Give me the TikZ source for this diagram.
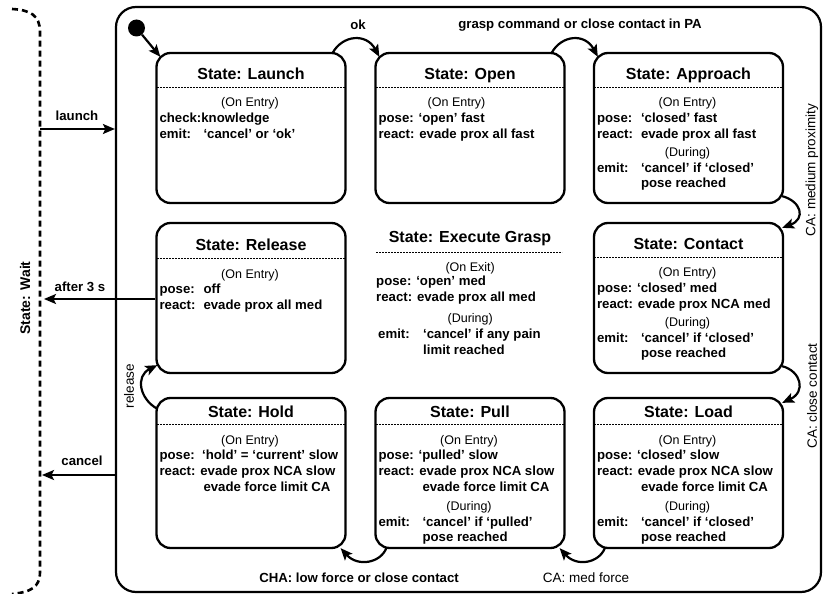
\documentclass[tikz,border=0pt]{standalone}
\usepackage{fontspec}
\setmainfont{Liberation Sans}
\usepackage{array}
\usetikzlibrary{calc,arrows.meta}

\newcommand\ttl{\fontsize{16}{19}\selectfont\bfseries}
\newcommand\bdy{\fontsize{13.2}{15.6}\selectfont\bfseries}
\newcommand\hdr{\fontsize{12.5}{15}\selectfont\mdseries}
\newcommand\hd[1]{\multicolumn{2}{@{}c@{}}{\hdr #1}}
\newcommand\one[1]{\multicolumn{2}{@{}l@{}}{#1}}
\newenvironment{bodytab}{\bdy\begin{tabular}[t]{@{}p{44pt}@{}p{137pt}@{}}}{\end{tabular}}

\newcommand\statetext[6]{%
  \node[anchor=base, inner sep=0pt] (#1-t) at ($(#1.north)+(0,#3)$) {\ttl #2};
  \draw[divider] ($(#1.north west)+(1.5,#4)$) -- ($(#1.north east)+(-1.5,#4)$);
  \node[anchor=base west, inner sep=0pt] (#1-b) at ($(#1.north west)+(4,#5)$) {#6};
}

\tikzset{
  state/.style={draw, line width=2.3pt, rounded corners=14pt, minimum width=189pt,
    minimum height=150pt, inner sep=0pt},
  divider/.style={line width=0.75pt, dash pattern=on 2pt off 1pt},
  arr/.style={line width=2.2pt, -{Stealth[length=12pt,width=10pt,inset=2.5pt]}},
  waitline/.style={line width=2.6pt, dash pattern=on 6pt off 4pt},
  lblb/.style={inner sep=0pt, font=\fontsize{13.2}{15}\selectfont\bfseries},
  lblr/.style={inner sep=0pt, font=\fontsize{13.5}{15}\selectfont\mdseries},
}

\begin{document}
\begin{tikzpicture}[x=1pt, y=-1pt]
\useasboundingbox (0,0) rectangle (823,594);

% outer state
\node[draw, line width=2.2pt, rounded corners=20pt, minimum width=705pt,
  minimum height=585pt, inner sep=0pt] (exec) at (468.5,299.5) {};

% wait state (dashed)
\draw[waitline] (12,9) .. controls (30,10) and (40,15) .. (40,32) -- (40,572)
  .. controls (40,588) and (30,592) .. (12,594);
\node[rotate=90, inner sep=0pt, font=\fontsize{14}{16}\selectfont\bfseries] (wait) at (25,298) {State: Wait};

% states
\node[state] (launch) at (251,128) {};
\node[state] (open) at (470,128) {};
\node[state] (approach) at (688.5,128) {};
\node[state] (release) at (251,298) {};
\node[state] (contact) at (688.5,298) {};
\node[state] (hold) at (251,473) {};
\node[state] (pull) at (470,473) {};
\node[state] (load) at (688.5,473) {};

\statetext{launch}{State: Launch}{28}{35.5}{55}{\begin{bodytab}
\hd{(On Entry)}\\
\one{check:knowledge}\\
emit: & ‘cancel’ or ‘ok’
\end{bodytab}}

\statetext{open}{State: Open}{28}{35.5}{55}{\begin{bodytab}
\hd{(On Entry)}\\
\one{pose: ‘open’ fast}\\
\one{react: evade prox all fast}
\end{bodytab}}

\statetext{approach}{State: Approach}{28}{35.5}{55}{\begin{bodytab}
\hd{(On Entry)}\\
pose: & ‘closed’ fast\\
react: & evade prox all fast\\[3pt]
\hd{(During)}\\
emit: & ‘cancel’ if ‘closed’\\
 & pose reached
\end{bodytab}}

\statetext{release}{State: Release}{29}{37}{56.5}{\begin{bodytab}
\hd{(On Entry)}\\
pose: & off\\
react: & evade prox all med
\end{bodytab}}

\statetext{contact}{State: Contact}{28}{35.5}{55}{\begin{bodytab}
\hd{(On Entry)}\\
\one{pose: ‘closed’ med}\\
\one{react: evade prox NCA med}\\[3pt]
\hd{(During)}\\
emit: & ‘cancel’ if ‘closed’\\
 & pose reached
\end{bodytab}}

\statetext{hold}{State: Hold}{20.5}{28}{47.5}{\begin{bodytab}
\hd{(On Entry)}\\
\one{pose:\ \ ‘hold’ = ‘current’ slow}\\
\one{react: evade prox NCA slow}\\
 & evade force limit CA
\end{bodytab}}

\statetext{pull}{State: Pull}{20.5}{28}{47.5}{\begin{bodytab}
\hd{(On Entry)}\\
\one{pose: ‘pulled’ slow}\\
\one{react: evade prox NCA slow}\\
 & evade force limit CA\\[4pt]
\hd{(During)}\\
emit: & ‘cancel’ if ‘pulled’\\
 & pose reached
\end{bodytab}}

\statetext{load}{State: Load}{20.5}{28}{47.5}{\begin{bodytab}
\hd{(On Entry)}\\
\one{pose: ‘closed’ slow}\\
\one{react: evade prox NCA slow}\\
 & evade force limit CA\\[4pt]
\hd{(During)}\\
emit: & ‘cancel’ if ‘closed’\\
 & pose reached
\end{bodytab}}

% execute grasp contents
\node[anchor=base, inner sep=0pt] (exec-t) at (470,242.7) {\ttl State: Execute Grasp};
\draw[divider] (376,252) -- (562,252);
\node[anchor=base west, inner sep=0pt] (exec-b) at (376,271.5) {\bdy\begin{tabular}[t]{@{}p{47pt}@{}p{141pt}@{}}
\hd{(On Exit)}\\[-1.5pt]
\one{pose: ‘open’ med}\\
\one{react: evade prox all med}\\[6pt]
\hd{(During)}\\
\hspace{2pt}emit: & ‘cancel’ if any pain\\
 & limit reached
\end{tabular}};

% initial pseudo state
\node[circle, fill, minimum size=17pt, inner sep=0pt] (init) at (136.5,28) {};
\draw[arr] (init) -- ($(launch.north west)+(5,5)$);

% transitions
\draw[arr] ($(launch.north east)+(-14,1)$) .. controls +(10,-18) and +(-13,-24) .. ($(open.north west)+(5,5)$);
\draw[arr] ($(open.north east)+(-14,1)$) .. controls +(10,-18) and +(-13,-24) .. ($(approach.north west)+(5,5)$);
\draw[arr] ($(approach.south east)+(-2,-8)$) .. controls +(19,5) and +(24,-9) .. ($(contact.north east)+(-2,6)$);
\draw[arr] ($(contact.south east)+(-2,-8)$) .. controls +(19,5) and +(24,-11) .. ($(load.north east)+(-2,6)$);
\draw[arr] ($(load.south west)+(12,-1)$) .. controls +(-6,15) and +(17,19) .. ($(pull.south east)+(-6,-1)$);
\draw[arr] ($(pull.south west)+(12,-1)$) .. controls +(-6,15) and +(17,19) .. ($(hold.south east)+(-6,-1)$);
\draw[arr] ($(hold.north west)+(2,12)$) .. controls +(-18,-10) and +(-22,11) .. ($(release.south west)+(2,-9)$);

\coordinate (wlaunch) at (40,129);
\draw[arr] (wlaunch) -- (wlaunch -| exec.west);
\coordinate (wafter) at (44,299);
\draw[arr] (release.west |- wafter) -- (wafter);
\coordinate (wcancel) at (42,475);
\draw[arr] (wcancel -| exec.west) -- (wcancel);

% labels
\node[lblb] (l-ok) at (358,25) {ok};
\node[lblb] (l-grasp) at (580,25) {grasp command or close contact in PA};
\node[lblr, rotate=90] (l-medprox) at (812,170) {CA: medium proximity};
\node[lblr, rotate=90] (l-close) at (812,396) {CA: close contact};
\node[lblr] (l-medforce) at (586,578) {CA: med force};
\node[lblb] (l-cha) at (359,578) {CHA: low force or close contact};
\node[lblr, rotate=90] (l-release) at (129,386) {release};
\node[lblb] (l-launch) at (77,116) {launch};
\node[lblb] (l-after) at (80,287) {after 3 s};
\node[lblb] (l-cancel) at (82,461) {cancel};
\end{tikzpicture}
\end{document}
